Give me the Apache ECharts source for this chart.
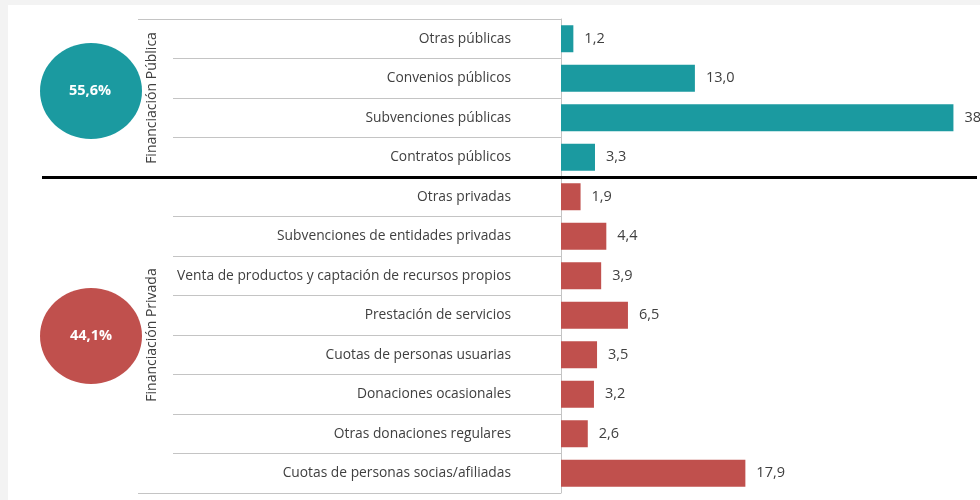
<!DOCTYPE html>
<html>
<head>
<meta charset="utf-8">
<script src="https://cdn.jsdelivr.net/npm/echarts@6/dist/echarts.min.js"></script>
<style>
html,body{margin:0;padding:0;background:#fff;}
#chart{width:980px;height:500px;}
</style>
</head>
<body>
<div id="chart"></div>
<script>
// datos: financiación pública / privada (%)
var catPublica = ['Otras públicas','Convenios públicos','Subvenciones públicas','Contratos públicos'];
var valPublica = [1.2, 13.0, 38.1, 3.3];
var catPrivada = ['Otras privadas','Subvenciones de entidades privadas','Venta de productos y captación de recursos propios','Prestación de servicios','Cuotas de personas usuarias','Donaciones ocasionales','Otras donaciones regulares','Cuotas de personas socias/afiliadas'];
var valPrivada = [1.9, 4.4, 3.9, 6.5, 3.5, 3.2, 2.6, 17.9];
var totalPublica = '55,6%';
var totalPrivada = '44,1%';

var colorPub = '#1b9aa0';
var colorPriv = '#c0504d';
var txt = '#404040';
var lineGray = '#c4c4c4';
var fuente = 'Open Sans';

function fmt(p){
	return p.value.toFixed(1).replace('.', ',');
}

function catAxis(idx, data, nombre){
	return {
		type:'category',
		gridIndex:idx,
		inverse:true,
		data:data,
		name:nombre,
		nameLocation:'middle',
		nameRotate:90,
		nameGap:402,
		nameTextStyle:{color:txt,fontSize:14,fontFamily:fuente},
		axisLine:{lineStyle:{color:lineGray,width:1}},
		axisTick:{show:true,inside:false,length:388,lineStyle:{color:lineGray,width:1}},
		axisLabel:{color:txt,fontSize:13.8,fontFamily:fuente,margin:50}
	};
}

function valAxis(idx){
	return {
		type:'value',
		gridIndex:idx,
		min:0,
		max:40,
		show:false,
		splitLine:{show:false}
	};
}

function serie(idx, data, color){
	return {
		type:'bar',
		xAxisIndex:idx,
		yAxisIndex:idx,
		data:data,
		barWidth:27,
		silent:true,
		itemStyle:{color:color},
		label:{show:true,position:'right',distance:11,color:txt,fontSize:14.5,fontFamily:fuente,formatter:fmt}
	};
}

var chart = echarts.init(document.getElementById('chart'));
chart.setOption({
	backgroundColor:'#fff',
	animation:false,
	grid:[
		{left:561,right:7,top:19,height:158},
		{left:561,right:7,top:177,height:316}
	],
	xAxis:[valAxis(0), valAxis(1)],
	yAxis:[
		catAxis(0, catPublica, 'Financiación Pública'),
		catAxis(1, catPrivada, 'Financiación Privada')
	],
	series:[
		serie(0, valPublica, colorPub),
		serie(1, valPrivada, colorPriv)
	],
	graphic:[
		// franjas grises del fondo
		{type:'rect',left:0,top:0,shape:{width:980,height:5},style:{fill:'#f3f3f3'},silent:true},
		{type:'rect',left:0,top:0,shape:{width:8,height:500},style:{fill:'#f3f3f3'},silent:true},
		// líneas superior e inferior del eje
		{type:'line',shape:{x1:138,y1:19.5,x2:561,y2:19.5},style:{stroke:lineGray,lineWidth:1},silent:true},
		{type:'line',shape:{x1:138,y1:493.5,x2:561,y2:493.5},style:{stroke:lineGray,lineWidth:1},silent:true},
		// separador negro
		{type:'line',shape:{x1:42,y1:177.5,x2:977,y2:177.5},style:{stroke:'#000',lineWidth:3},z:10,silent:true},
		// círculos de totales
		{type:'ellipse',shape:{cx:91,cy:91,rx:51,ry:48},style:{fill:colorPub},silent:true},
		{type:'text',x:90,y:91,style:{text:totalPublica,fill:'#fff',font:'bold 14.5px "Open Sans"',align:'center',verticalAlign:'middle'},silent:true},
		{type:'ellipse',shape:{cx:91,cy:336,rx:51,ry:48},style:{fill:colorPriv},silent:true},
		{type:'text',x:91,y:336,style:{text:totalPrivada,fill:'#fff',font:'bold 14.5px "Open Sans"',align:'center',verticalAlign:'middle'},silent:true}
	]
});
</script>
</body>
</html>
